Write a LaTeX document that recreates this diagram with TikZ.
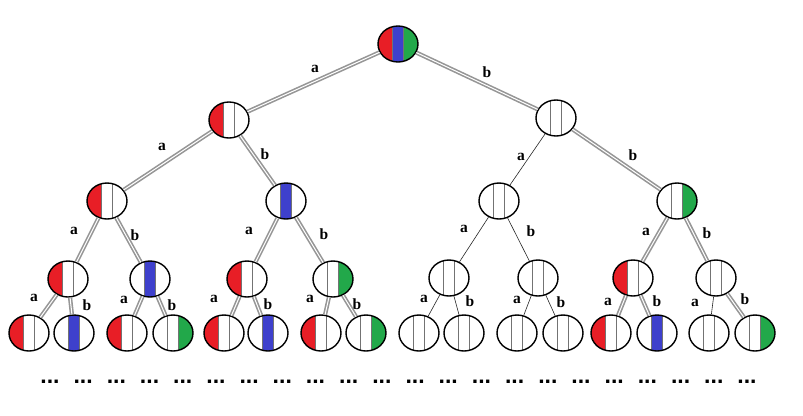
\documentclass[tikz,border=0pt]{standalone}
\usepackage{fontspec}
\setmainfont{Liberation Serif}
\newfontfamily\dotfont{Liberation Sans}
\usetikzlibrary{shapes.geometric}
\definecolor{cR}{RGB}{232,30,38}
\definecolor{cB}{RGB}{62,64,204}
\definecolor{cG}{RGB}{34,168,74}
\definecolor{edgegray}{RGB}{150,150,150}
\tikzset{
  cell/.style n args={3}{ellipse, draw=black, line width=1.4pt, fill=white,
    minimum width=40pt, minimum height=36pt, inner sep=0pt,
    path picture={
      \begin{scope}[shift={(path picture bounding box.center)}]
        \fill[#1] (-30pt,-30pt) rectangle (-5.5pt,30pt);
        \fill[#2] (-5.5pt,-30pt) rectangle (5.5pt,30pt);
        \fill[#3] (5.5pt,-30pt) rectangle (30pt,30pt);
        \draw[black!55, line width=0.8pt] (-5.5pt,-30pt) -- (-5.5pt,30pt) (5.5pt,-30pt) -- (5.5pt,30pt);
      \end{scope}
    }},
  dbl/.style={draw=edgegray, line width=1.6pt, double=white, double distance=1pt},
  thinedge/.style={draw=black!85, line width=0.6pt},
  lbl/.style={font=\bfseries\fontsize{15.5}{16}\selectfont, inner sep=0pt},
  dotsty/.style={font=\dotfont\bfseries\fontsize{23}{23}\selectfont, inner sep=0pt}
}
\begin{document}
\begin{tikzpicture}[x=1pt,y=1pt]
\useasboundingbox[fill=white] (0,0) rectangle (803,-415);
% level 0
\node[cell={cR}{cB}{cG}] (r) at (398,-44) {};
% level 1
\node[cell={cR}{white}{white}] (a) at (229,-120) {};
\node[cell={white}{white}{white}] (b) at (556,-118) {};
% level 2
\node[cell={cR}{white}{white}] (aa) at (107,-201) {};
\node[cell={white}{cB}{white}] (ab) at (286,-201) {};
\node[cell={white}{white}{white}] (ba) at (499,-201) {};
\node[cell={white}{white}{cG}] (bb) at (677,-201) {};
% level 3
\node[cell={cR}{white}{white}] (aaa) at (68,-279) {};
\node[cell={white}{cB}{white}] (aab) at (150,-279) {};
\node[cell={cR}{white}{white}] (aba) at (247,-279) {};
\node[cell={white}{white}{cG}] (abb) at (333,-279) {};
\node[cell={white}{white}{white}] (baa) at (449,-278) {};
\node[cell={white}{white}{white}] (bab) at (538,-278) {};
\node[cell={cR}{white}{white}] (bba) at (633,-278) {};
\node[cell={white}{white}{white}] (bbb) at (716,-278) {};
% level 4
\node[cell={cR}{white}{white}] (l1) at (29,-333) {};
\node[cell={white}{cB}{white}] (l2) at (74,-333) {};
\node[cell={cR}{white}{white}] (l3) at (127,-333) {};
\node[cell={white}{white}{cG}] (l4) at (173,-333) {};
\node[cell={cR}{white}{white}] (l5) at (224,-333) {};
\node[cell={white}{cB}{white}] (l6) at (268,-333) {};
\node[cell={cR}{white}{white}] (l7) at (321,-333) {};
\node[cell={white}{white}{cG}] (l8) at (366,-333) {};
\node[cell={white}{white}{white}] (l9) at (419,-333) {};
\node[cell={white}{white}{white}] (l10) at (464,-333) {};
\node[cell={white}{white}{white}] (l11) at (517,-333) {};
\node[cell={white}{white}{white}] (l12) at (563,-333) {};
\node[cell={cR}{white}{white}] (l13) at (611,-333) {};
\node[cell={white}{cB}{white}] (l14) at (657,-333) {};
\node[cell={white}{white}{white}] (l15) at (709,-333) {};
\node[cell={white}{white}{cG}] (l16) at (755,-333) {};
% edges
\draw[dbl] (r) -- (a);
\draw[dbl] (r) -- (b);
\draw[dbl] (a) -- (aa);
\draw[dbl] (a) -- (ab);
\draw[thinedge] (b) -- (ba);
\draw[dbl] (b) -- (bb);
\draw[dbl] (aa) -- (aaa);
\draw[dbl] (aa) -- (aab);
\draw[dbl] (ab) -- (aba);
\draw[dbl] (ab) -- (abb);
\draw[thinedge] (ba) -- (baa);
\draw[thinedge] (ba) -- (bab);
\draw[dbl] (bb) -- (bba);
\draw[dbl] (bb) -- (bbb);
\draw[dbl] (aaa) -- (l1);
\draw[dbl] (aaa) -- (l2);
\draw[dbl] (aab) -- (l3);
\draw[dbl] (aab) -- (l4);
\draw[dbl] (aba) -- (l5);
\draw[dbl] (aba) -- (l6);
\draw[dbl] (abb) -- (l7);
\draw[dbl] (abb) -- (l8);
\draw[thinedge] (baa) -- (l9);
\draw[thinedge] (baa) -- (l10);
\draw[thinedge] (bab) -- (l11);
\draw[thinedge] (bab) -- (l12);
\draw[dbl] (bba) -- (l13);
\draw[dbl] (bba) -- (l14);
\draw[thinedge] (bbb) -- (l15);
\draw[dbl] (bbb) -- (l16);
% labels
\node[lbl] (t1) at (315,-69) {a};
\node[lbl] (t2) at (487,-72) {b};
\node[lbl] (t3) at (162,-147) {a};
\node[lbl] (t4) at (265,-154) {b};
\node[lbl] (t5) at (521,-157) {a};
\node[lbl] (t6) at (633,-155) {b};
\node[lbl] (t7) at (74,-231) {a};
\node[lbl] (t8) at (135,-235) {b};
\node[lbl] (t9) at (249,-231) {a};
\node[lbl] (t10) at (324,-234) {b};
\node[lbl] (t11) at (464,-229) {a};
\node[lbl] (t12) at (531,-231) {b};
\node[lbl] (t13) at (646,-232) {a};
\node[lbl] (t14) at (707,-233) {b};
\node[lbl] (t15) at (34,-298) {a};
\node[lbl] (t16) at (87,-305) {b};
\node[lbl] (t17) at (124,-300) {a};
\node[lbl] (t18) at (172,-305) {b};
\node[lbl] (t19) at (214,-299) {a};
\node[lbl] (t20) at (268,-304) {b};
\node[lbl] (t21) at (310,-299) {a};
\node[lbl] (t22) at (357,-304) {b};
\node[lbl] (t23) at (424,-299) {a};
\node[lbl] (t24) at (470,-301) {b};
\node[lbl] (t25) at (517,-300) {a};
\node[lbl] (t26) at (561,-302) {b};
\node[lbl] (t27) at (608,-302) {a};
\node[lbl] (t28) at (657,-301) {b};
\node[lbl] (t29) at (695,-303) {a};
\node[lbl] (t30) at (745,-299) {b};
% dots
\foreach \i in {0,...,21} {
  \node[dotsty] (d\i) at ({50+33.19*\i},-382) {...};
}
\end{tikzpicture}
\end{document}
